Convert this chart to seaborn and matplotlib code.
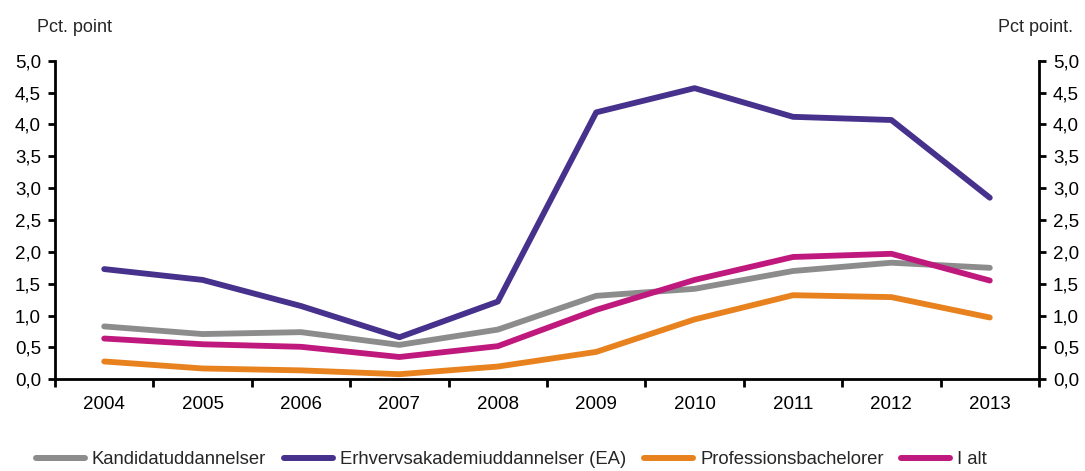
import numpy as np
import pandas as pd
import matplotlib
matplotlib.use("Agg")
import matplotlib.pyplot as plt
import seaborn as sns
from matplotlib.ticker import FixedLocator, FuncFormatter
from matplotlib.lines import Line2D

years = ["2004", "2005", "2006", "2007", "2008", "2009", "2010", "2011", "2012", "2013"]
kandidat = [0.83, 0.71, 0.74, 0.54, 0.78, 1.31, 1.42, 1.70, 1.83, 1.75]
erhvervsakademi = [1.73, 1.56, 1.15, 0.66, 1.22, 4.19, 4.57, 4.12, 4.07, 2.85]
professionsbachelor = [0.28, 0.17, 0.14, 0.08, 0.20, 0.43, 0.94, 1.32, 1.29, 0.97]
i_alt = [0.64, 0.55, 0.51, 0.35, 0.52, 1.09, 1.56, 1.92, 1.97, 1.55]

series_names = ["Kandidatuddannelser", "Erhvervsakademiuddannelser (EA)",
                "Professionsbachelorer", "I alt"]
series_values = [kandidat, erhvervsakademi, professionsbachelor, i_alt]
colors = ["#8c8c8c", "#46318c", "#e8821e", "#c0197e"]

rows = []
for name, vals in zip(series_names, series_values):
    for i, v in enumerate(vals):
        rows.append({"pos": i, "value": v, "serie": name})
df = pd.DataFrame(rows)

sns.set_theme(style="white")
plt.rcParams["font.family"] = ["Liberation Sans", "DejaVu Sans"]

fig = plt.figure(figsize=(10.85, 4.71), dpi=100)
ax = fig.add_axes([0.0507, 0.1947, 0.9069, 0.6763])

sns.lineplot(data=df, x="pos", y="value", hue="serie", palette=colors,
             hue_order=series_names, linewidth=4.2, ax=ax, legend=False,
             solid_capstyle="round", solid_joinstyle="round")

ax.set_xlim(-0.5, len(years) - 0.5)
ax.set_ylim(0, 5)
ax.set_xlabel("")
ax.set_ylabel("")

fmt = FuncFormatter(lambda v, p: f"{v:.1f}".replace(".", ","))
yt = np.arange(0, 5.01, 0.5)
ax.yaxis.set_major_locator(FixedLocator(yt))
ax.yaxis.set_major_formatter(fmt)

ax.set_xticks(range(len(years)))
ax.set_xticklabels(years)
ax.xaxis.set_minor_locator(FixedLocator(np.arange(-0.5, len(years), 1.0)))

for side in ["top", "right"]:
    ax.spines[side].set_visible(False)
for side in ["left", "bottom"]:
    ax.spines[side].set_linewidth(2)
    ax.spines[side].set_color("black")

ax.tick_params(axis="y", which="major", direction="out", length=5, width=2,
               labelsize=13.5, colors="black", pad=5, left=True)
ax.tick_params(axis="x", which="major", length=0, labelsize=13.5,
               colors="black", pad=12)
ax.tick_params(axis="x", which="minor", direction="out", length=6, width=2,
               bottom=True, colors="black")

ax2 = ax.twinx()
ax2.set_ylim(0, 5)
ax2.yaxis.set_major_locator(FixedLocator(yt))
ax2.yaxis.set_major_formatter(fmt)
for side in ["top", "left", "bottom"]:
    ax2.spines[side].set_visible(False)
ax2.spines["right"].set_linewidth(2)
ax2.spines["right"].set_color("black")
ax2.tick_params(axis="y", direction="out", length=5, width=2,
                labelsize=13.5, colors="black", pad=5, right=True)
ax2.grid(False)
ax.grid(False)

fig.text(0.034, 0.942, "Pct. point", fontsize=13, ha="left", va="center")
fig.text(0.989, 0.942, "Pct point.", fontsize=13, ha="right", va="center")

handles = [Line2D([0], [0], color=c, linewidth=4.3, solid_capstyle="round")
           for c in colors]
fig.legend(handles, series_names, loc="center", ncol=4,
           bbox_to_anchor=(0.4714, 0.024), frameon=False, fontsize=13.3,
           handlelength=2.65, handletextpad=0.38, columnspacing=0.97,
           borderpad=0.1)

fig.savefig("out.png", dpi=100)
